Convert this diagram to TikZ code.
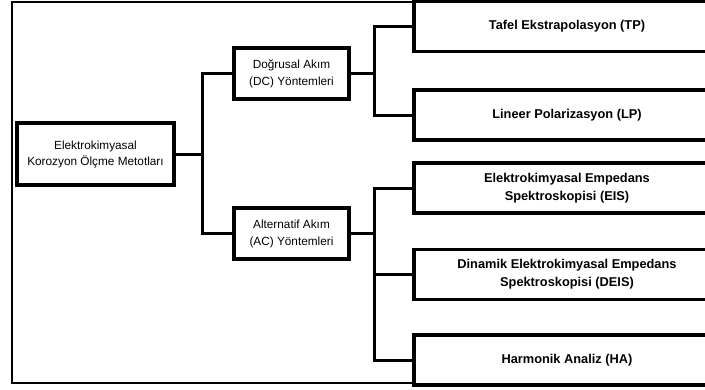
\documentclass[tikz,border=0pt]{standalone}
\usepackage{fontspec}
\setmainfont{Liberation Sans}
\begin{document}
\begin{tikzpicture}[x=1pt,y=-1pt,
  box/.style={draw, line width=3.3pt, align=center, inner sep=0pt, fill=white},
  small/.style={box, minimum width=115pt, minimum height=51pt, font=\fontsize{11.8}{17}\selectfont},
  big/.style={box, minimum width=306pt, minimum height=50pt, font=\bfseries\fontsize{12.8}{18}\selectfont},
  conn/.style={line width=3pt}]
\fill[white] (0,0) rectangle (705,389);
\useasboundingbox (0,0) rectangle (705,389);
\clip (0,0) rectangle (705,389);
\draw[line width=2.4pt] (706,2) -- (12,2) -- (12,383) -- (706,383);

\node[box, minimum width=157pt, minimum height=62pt, font=\fontsize{11.8}{16}\selectfont] (root) at (95.5,154) {Elektrokimyasal\\Korozyon Ölçme Metotları};
\node[small] (dc) at (291.5,73.5) {Doğrusal Akım\\(DC) Yöntemleri};
\node[small] (ac) at (291.5,233.5) {Alternatif Akım\\(AC) Yöntemleri};

\node[big] (tp) at (567,26.5) {Tafel Ekstrapolasyon (TP)};
\node[big] (lp) at (567,115) {Lineer Polarizasyon (LP)};
\node[big] (eis) at (567,188) {Elektrokimyasal Empedans\\Spektroskopisi (EIS)};
\node[big] (deis) at (567,274.5) {Dinamik Elektrokimyasal Empedans\\Spektroskopisi (DEIS)};
\node[big] (ha) at (567,360) {Harmonik Analiz (HA)};

\coordinate (j1) at (202,154);
\coordinate (j2) at (374,73.5);
\coordinate (j3) at (374,233.5);

\draw[conn] (root.east) -- (j1);
\draw[conn] (dc.west) -| (j1) |- (ac.west);
\draw[conn] (dc.east) -- (j2);
\draw[conn] (tp.west) -| (j2) |- (lp.west);
\draw[conn] (ac.east) -- (j3);
\draw[conn] (eis.west) -| (j3) |- (ha.west);
\draw[conn] (deis.west) -- (deis.west -| j3);
\end{tikzpicture}
\end{document}
